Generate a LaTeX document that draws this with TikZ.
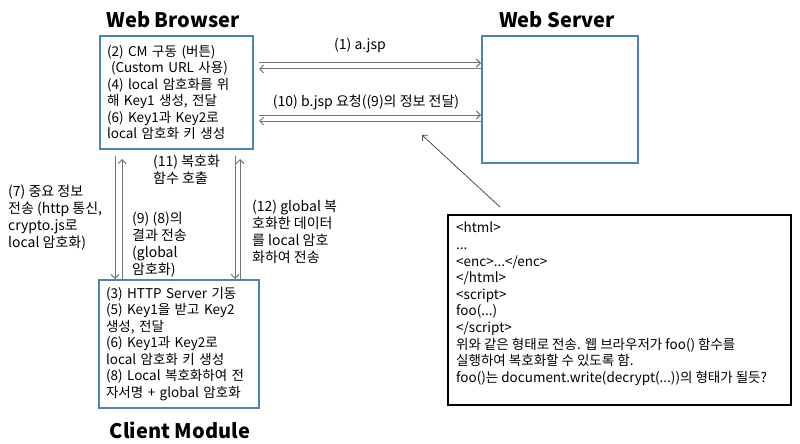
\documentclass[tikz,border=0pt]{standalone}
\usepackage{fontspec}
\setmainfont{Noto Sans CJK KR}
\usetikzlibrary{calc,arrows.meta}

\definecolor{boxblue}{RGB}{79,129,189}
\definecolor{flowgray}{RGB}{115,115,115}

\tikzset{
  blockbox/.style={draw=boxblue, line width=2pt, anchor=north west,
    align=left, inner sep=7pt, font=\fontsize{13.5}{16.5}\selectfont},
  notebox/.style={draw=black, line width=2pt, anchor=north west},
  flow/.style={draw=flowgray, line width=1pt,
    -{Straight Barb[length=4pt,width=8pt]}},
  lbl/.style={anchor=north west, align=left, inner sep=0pt,
    font=\fontsize{14}{17}\selectfont},
  heading/.style={font=\fontsize{20}{22}\selectfont\bfseries}
}

\begin{document}
\begin{tikzpicture}[x=1pt, y=-1pt]
    \useasboundingbox (0,0) rectangle (800,444);

    % the three parties
    \node[blockbox, text width=139pt, minimum height=113pt] (browser) at (99,35)
        {(2) CM 구동 (버튼)\\
         \hspace*{4pt}(Custom URL 사용)\\
         (4) local 암호화를 위\\
         해 Key1 생성, 전달\\
         (6) Key1과 Key2로\\
         local 암호화 키 생성};
    \node[blockbox, minimum width=156pt, minimum height=127pt] (server) at (481,35) {};
    \node[blockbox, text width=146pt, minimum height=126pt] (client) at (98,279)
        {(3) HTTP Server 기동\\
         (5) Key1을 받고 Key2\\
         생성, 전달\\
         (6) Key1과 Key2로\\
         local 암호화 키 생성\\
         (8) Local 복호화하여 전\\
         자서명 + global 암호화};

    \node[heading] (browsertitle) at (173,20) {Web Browser};
    \node[heading] (servertitle) at (557,20) {Web Server};
    \node[heading] (clienttitle) at (180,430) {Client Module};

    % note box
    \node[notebox, minimum width=343pt, minimum height=190pt] (note) at (447,214) {};
    \node[lbl, font=\fontsize{13.5}{16.6}\selectfont] (notetext) at (456,222)
        {<html>\\
         ...\\
         <enc>...</enc>\\
         </html>\\
         <script>\\
         foo(...)\\
         </script>\\
         위와 같은 형태로 전송. 웹 브라우저가 foo() 함수를\\
         실행하여 복호화할 수 있도록 함.\\
         foo()는 document.write(decrypt(...))의 형태가 될듯?};

    % browser <-> server
    \coordinate (a1) at ($(browser.north east)+(5,28)$);
    \coordinate (a2) at ($(browser.north east)+(5,34)$);
    \coordinate (a3) at ($(browser.north east)+(5,80)$);
    \coordinate (a4) at ($(browser.north east)+(5,86)$);
    \draw[flow] (a1) -- (a1 -| server.west);
    \draw[flow] (a2 -| server.west) -- (a2);
    \draw[flow] (a3) -- (a3 -| server.west);
    \draw[flow] (a4 -| server.west) -- (a4);

    % browser <-> client
    \coordinate (v1) at ($(browser.south west)+(16,6)$);
    \coordinate (v2) at ($(browser.south west)+(23,9)$);
    \coordinate (v3) at ($(browser.south east)+(-19,6)$);
    \coordinate (v4) at ($(browser.south east)+(-14,9)$);
    \draw[flow] (v1) -- (v1 |- client.north);
    \draw[flow] (v2 |- client.north) -- (v2);
    \draw[flow] (v3) -- (v3 |- client.north);
    \draw[flow] (v4 |- client.north) -- (v4);

    % note points to the page
    \coordinate (page) at (422,135);
    \draw[flow, draw=black!70, line width=0.8pt] ($(note.north west)+(53,-7)$) -- (page);

    % labels
    \node[lbl, anchor=center] (l1) at (360,45) {(1) a.jsp};
    \node[lbl, anchor=center] (l10) at (366,102) {(10) b.jsp 요청((9)의 정보 전달)};
    \node[lbl] (l7) at (8,185)
        {(7) 중요 정보\\ 전송 (http 통신,\\ crypto.js로\\ local 암호화)};
    \node[lbl] (l11) at (153,155) {(11) 복호화\\ 함수 호출};
    \node[lbl] (l9) at (132,212) {(9) (8)의\\ 결과 전송\\ (global\\ 암호화)};
    \node[lbl] (l12) at (252,200)
        {(12) global 복\\ 호화한 데이터\\ 를 local 암호\\ 화하여 전송};
\end{tikzpicture}
\end{document}
